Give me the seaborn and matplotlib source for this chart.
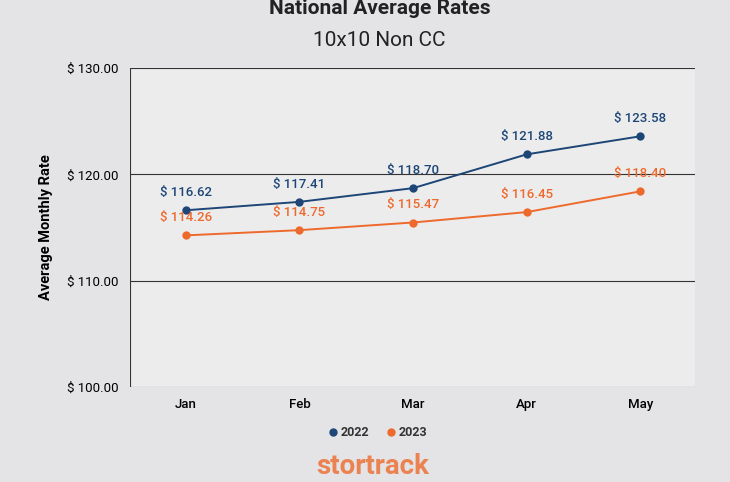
import matplotlib
matplotlib.use("Agg")
import matplotlib.pyplot as plt
import seaborn as sns
import pandas as pd

months = ["Jan", "Feb", "Mar", "Apr", "May"]
rates_2022 = [116.62, 117.41, 118.70, 121.88, 123.58]
rates_2023 = [114.26, 114.75, 115.47, 116.45, 118.40]
y_ticks = [100, 110, 120, 130]

df = pd.DataFrame({
    "Month": months * 2,
    "Rate": rates_2022 + rates_2023,
    "Year": ["2022"] * 5 + ["2023"] * 5,
})
colors = {"2022": "#1d4677", "2023": "#ee6a2c"}

fig = plt.figure(figsize=(7.30, 4.82), dpi=100)
fig.patch.set_facecolor("#e4e4e6")
ax = fig.add_axes([130 / 730, 1 - 387 / 482, 565 / 730, 319 / 482])
ax.set_facecolor("#ececed")

sns.lineplot(data=df, x="Month", y="Rate", hue="Year", palette=colors,
             marker="o", markersize=6, markeredgewidth=0, linewidth=1.4,
             legend=False, ax=ax)

for yr, vals in (("2022", rates_2022), ("2023", rates_2023)):
    for i, v in enumerate(vals):
        ax.annotate(f"$ {v:.2f}", (i, v), xytext=(0, 8), textcoords="offset points",
                    ha="center", va="bottom", color=colors[yr], fontsize=9.5,
                    fontfamily="Roboto", fontweight="medium")

ax.set_xlim(-0.49, 4.48)
ax.set_ylim(100, 130)
ax.set_yticks(y_ticks)
ax.set_yticklabels([f"$ {t:.2f}" for t in y_ticks], fontfamily="Roboto", fontsize=9.5)
ax.set_xticks(range(len(months)))
ax.set_xticklabels(months, fontfamily="Roboto", fontsize=9.5, fontweight="medium")
ax.tick_params(length=0, pad=8)
ax.grid(axis="y", color="#333333", linewidth=0.8)
ax.grid(axis="x", visible=False)
for s in ax.spines.values():
    s.set_visible(False)
ax.axvline(-0.49, color="#333333", linewidth=0.8)
ax.set_xlabel("")
ax.set_ylabel("Average Monthly Rate", fontfamily="Roboto", fontweight="bold",
              fontsize=10.5, labelpad=10)

fig.text(0.52, 1 - 8 / 482, "National Average Rates", ha="center", va="center",
         fontsize=15, fontweight="bold", fontfamily="Roboto", color="#222222")
fig.text(0.52, 1 - 40 / 482, "10x10 Non CC", ha="center", va="center",
         fontsize=15, fontfamily="Roboto", color="#222222")

# legend
for x0, yr in ((333, "2022"), (391, "2023")):
    fig.lines.append(plt.Line2D([x0 / 730], [1 - 432 / 482], marker="o", markersize=5,
                                color=colors[yr], transform=fig.transFigure))
    fig.text((x0 + 8) / 730, 1 - 432 / 482, yr, va="center", fontsize=9,
             fontweight="bold", fontfamily="Roboto", color="#333333")

fig.text(0.51, 1 - 466 / 482, "stortrack", ha="center", va="center", fontsize=20,
         fontweight="bold", fontfamily="Roboto", color="#ee6a2c", alpha=0.8)

fig.savefig("out.png", dpi=100, facecolor=fig.get_facecolor())
